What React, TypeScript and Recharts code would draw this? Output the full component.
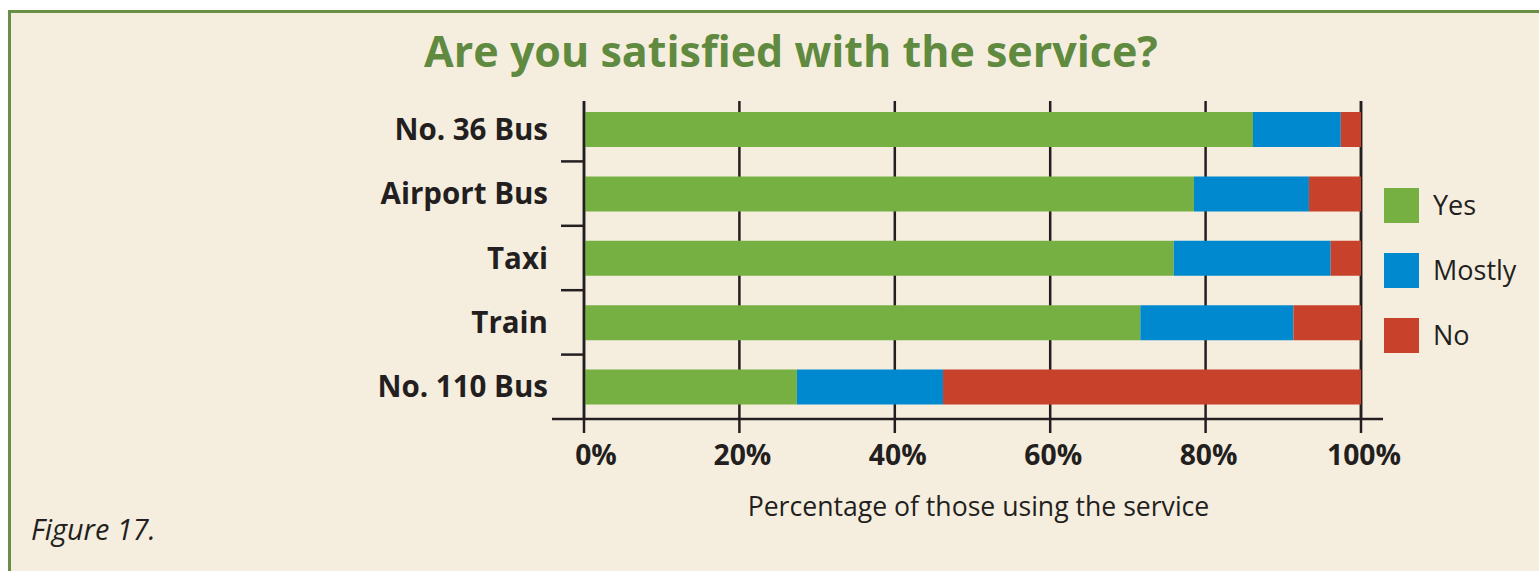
import { BarChart, Bar, XAxis, YAxis, CartesianGrid } from "recharts";

const CATEGORIES = ["No. 36 Bus", "Airport Bus", "Taxi", "Train", "No. 110 Bus"];
const YES = [86.1, 78.5, 75.9, 71.6, 27.4];
const MOSTLY = [11.3, 14.8, 20.2, 19.7, 18.8];
const NO = [2.6, 6.7, 3.9, 8.7, 53.8];
const X_TICKS = [0, 20, 40, 60, 80, 100];

const SERIES = [
  { key: "yes", name: "Yes", color: "#76B043" },
  { key: "mostly", name: "Mostly", color: "#0089CF" },
  { key: "no", name: "No", color: "#C8412B" },
];

const TITLE = "Are you satisfied with the service?";
const X_TITLE = "Percentage of those using the service";
const CAPTION = "Figure 17.";

const FONT = "'Open Sans', 'Noto Sans', sans-serif";
const INK = "#231F20";
const BG = "#F5EEDF";
const FRAME = "#688F45";

// plot box in page pixels
const W = 1539;
const H = 571;
const PLOT_LEFT = 584;
const PLOT_RIGHT = 1361;
const PLOT_TOP = 97;
const PLOT_BOTTOM = 419;
const AXIS_TOP = 101; // frame lines start a little below the first band
const Y_AXIS_W = 200;

const data = CATEGORIES.map((name, i) => ({
  name,
  yes: YES[i],
  mostly: MOSTLY[i],
  no: NO[i],
}));

const band = (PLOT_BOTTOM - PLOT_TOP) / CATEGORIES.length;

function YTick(props: any) {
  const { x, y, payload, index } = props;
  return (
    <g>
      <text
        x={x - 36}
        y={y}
        dy={10.5}
        textAnchor="end"
        fontFamily={FONT}
        fontWeight={700}
        fontSize={29.5}
        fill={INK}
      >
        {payload.value}
      </text>
      {index < CATEGORIES.length - 1 && (
        <line x1={x - 23} x2={x} y1={y + band / 2} y2={y + band / 2} stroke={INK} strokeWidth={2.5} />
      )}
    </g>
  );
}

function XTick(props: any) {
  const { x, y, payload, index } = props;
  return (
    <text
      x={index === 0 ? x + 12 : x + 3}
      y={y}
      dy={32}
      textAnchor="middle"
      fontFamily={FONT}
      fontWeight={700}
      fontSize={28.3}
      fill={INK}
    >
      {payload.value}%
    </text>
  );
}

export default function App() {
  return (
    <div style={{ position: "absolute", left: 0, top: 0, width: W, height: H, overflow: "hidden", background: "#fff" }}>
      <div
        style={{
          position: "absolute",
          left: 8,
          top: 10,
          width: W + 20,
          height: H + 20,
          background: BG,
          border: `3px solid ${FRAME}`,
          boxSizing: "border-box",
        }}
      />
      <div
        style={{
          position: "absolute",
          left: 391,
          top: 23,
          width: 800,
          textAlign: "center",
          fontFamily: FONT,
          fontWeight: 700,
          fontSize: 43,
          color: "#5F8A3F",
          lineHeight: "56px",
        }}
      >
        {TITLE}
      </div>

      <div style={{ position: "absolute", left: 0, top: 0 }}>
        <BarChart
          width={W}
          height={H}
          data={data}
          layout="vertical"
          barSize={35}
          margin={{ top: PLOT_TOP, bottom: H - PLOT_BOTTOM - 30, left: PLOT_LEFT - Y_AXIS_W, right: W - PLOT_RIGHT }}
        >
          <CartesianGrid
            horizontal={false}
            y={AXIS_TOP}
            height={PLOT_BOTTOM - AXIS_TOP}
            stroke={INK}
            strokeWidth={2.5}
            strokeOpacity={1}
          />
          <XAxis
            type="number"
            domain={[0, 100]}
            ticks={X_TICKS}
            axisLine={false}
            tickLine={{ stroke: INK, strokeWidth: 2.5 }}
            tickSize={14}
            tickMargin={0}
            tick={<XTick />}
            interval={0}
            height={30}
          />
          <YAxis
            type="category"
            dataKey="name"
            width={Y_AXIS_W}
            axisLine={false}
            tickLine={false}
            tickSize={0}
            tickMargin={0}
            tick={<YTick />}
            interval={0}
          />
          {SERIES.map((s) => (
            <Bar key={s.key} dataKey={s.key} name={s.name} stackId="a" fill={s.color} isAnimationActive={false} />
          ))}
        </BarChart>
      </div>

      {/* axis frame: extended baseline and the vertical axis line */}
      <svg style={{ position: "absolute", left: 0, top: 0 }} width={W} height={H} pointerEvents="none">
        <line x1={PLOT_LEFT - 32} x2={PLOT_RIGHT + 22} y1={PLOT_BOTTOM} y2={PLOT_BOTTOM} stroke={INK} strokeWidth={2.5} />
        <line x1={PLOT_LEFT} x2={PLOT_LEFT} y1={AXIS_TOP} y2={PLOT_BOTTOM} stroke={INK} strokeWidth={2.5} />
      </svg>

      <div
        style={{
          position: "absolute",
          left: PLOT_LEFT,
          width: PLOT_RIGHT - PLOT_LEFT + 12,
          top: 488,
          textAlign: "center",
          fontFamily: FONT,
          fontSize: 26.6,
          color: INK,
          lineHeight: "36px",
        }}
      >
        {X_TITLE}
      </div>

      <div style={{ position: "absolute", left: 1384, top: 188, fontFamily: FONT, fontSize: 27, color: INK }}>
        {SERIES.map((s) => (
          <div key={s.key} style={{ display: "flex", alignItems: "center", height: 35, marginBottom: 30 }}>
            <div style={{ width: 35, height: 35, background: s.color, marginRight: 14 }} />
            <span style={{ lineHeight: "35px", marginTop: -2 }}>{s.name}</span>
          </div>
        ))}
      </div>

      <div
        style={{
          position: "absolute",
          left: 31,
          top: 511,
          fontFamily: FONT,
          fontStyle: "italic",
          fontSize: 28.8,
          color: INK,
          lineHeight: "36px",
        }}
      >
        {CAPTION}
      </div>
    </div>
  );
}
